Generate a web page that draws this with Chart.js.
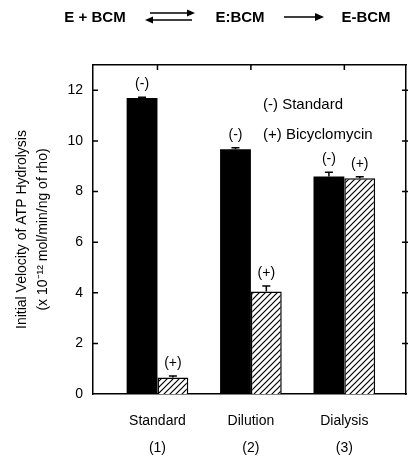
<!DOCTYPE html>
<html>
<head>
<meta charset="utf-8">
<script src="https://cdn.jsdelivr.net/npm/chart.js@4.4.0/dist/chart.umd.min.js"></script>
<style>
  html, body { margin: 0; padding: 0; background: #fff; }
  canvas { display: block; }
</style>
</head>
<body>
<canvas id="bcmChart" width="409" height="462"></canvas>
<script>
// data
const categories = ['Standard', 'Dilution', 'Dialysis'];
const categoryNumbers = ['(1)', '(2)', '(3)'];
const categoryPositions = [1, 2, 3];
const standardValues = [11.7, 9.67, 8.59];      // (-) no bicyclomycin
const standardErrors = [0.03, 0.06, 0.17];
const bicyclomycinValues = [0.65, 4.05, 8.53];  // (+) bicyclomycin
const bicyclomycinErrors = [0.06, 0.22, 0.05];
const yTickValues = [0, 2, 4, 6, 8, 10, 12];
const seriesMarks = ['(-)', '(+)'];
const legendLines = ['(-) Standard', '(+) Bicyclomycin'];

const FONT = "'Liberation Sans', Arial, Helvetica, sans-serif";

function makeHatch() {
    const c = document.createElement('canvas');
    c.width = 6;
    c.height = 6;
    const g = c.getContext('2d');
    g.fillStyle = '#fff';
    g.fillRect(0, 0, 6, 6);
    g.strokeStyle = '#000';
    g.lineWidth = 1.2;
    g.beginPath();
    g.moveTo(0, 6); g.lineTo(6, 0);
    g.moveTo(-1, 1); g.lineTo(1, -1);
    g.moveTo(5, 7); g.lineTo(7, 5);
    g.stroke();
    return g.createPattern(c, 'repeat');
}

function toPoints(values) {
    return values.map((v, i) => ({ x: categoryPositions[i], y: v }));
}

const whiteBackground = {
    id: 'whiteBackground',
    beforeDraw(chart) {
        const ctx = chart.ctx;
        ctx.save();
        ctx.fillStyle = '#fff';
        ctx.fillRect(0, 0, chart.width, chart.height);
        ctx.restore();
    }
};

function arrowHead(ctx, x, y, dir, size) {
    ctx.beginPath();
    ctx.moveTo(x, y);
    ctx.lineTo(x - dir * size, y - size * 0.45);
    ctx.lineTo(x - dir * size, y + size * 0.45);
    ctx.closePath();
    ctx.fill();
}

const decorations = {
    id: 'decorations',
    afterDraw(chart) {
        const ctx = chart.ctx;
        const area = chart.chartArea;
        const x = chart.scales.x;
        const y = chart.scales.y;
        ctx.save();
        ctx.strokeStyle = '#000';
        ctx.fillStyle = '#000';

        // inward tick marks on left, right and top
        ctx.lineWidth = 1.5;
        ctx.beginPath();
        yTickValues.forEach(v => {
            const py = y.getPixelForValue(v);
            if (v === 0) return;
            ctx.moveTo(area.left, py); ctx.lineTo(area.left + 5, py);
            ctx.moveTo(area.right - 4, py); ctx.lineTo(area.right + 2, py);
        });
        categoryPositions.forEach(c => {
            const px = x.getPixelForValue(c);
            ctx.moveTo(px, area.top); ctx.lineTo(px, area.top + 5);
        });
        ctx.stroke();

        // error bars and (-)/(+) marks over each bar
        const sets = [[standardValues, standardErrors], [bicyclomycinValues, bicyclomycinErrors]];
        ctx.font = '14px ' + FONT;
        ctx.textAlign = 'center';
        ctx.textBaseline = 'middle';
        sets.forEach((s, d) => {
            const meta = chart.getDatasetMeta(d);
            meta.data.forEach((bar, i) => {
                const top = y.getPixelForValue(s[0][i]);
                const errTop = y.getPixelForValue(s[0][i] + s[1][i]);
                ctx.lineWidth = 1.5;
                ctx.beginPath();
                ctx.moveTo(bar.x, top);
                ctx.lineTo(bar.x, errTop);
                ctx.moveTo(bar.x - 4, errTop);
                ctx.lineTo(bar.x + 4, errTop);
                ctx.stroke();
                ctx.fillText(seriesMarks[d], bar.x, errTop - 13);
            });
        });

        // legend text
        ctx.font = '15px ' + FONT;
        ctx.textAlign = 'left';
        ctx.fillText(legendLines[0], 263, 105);
        ctx.fillText(legendLines[1], 263, 135);

        // reaction scheme above the plot
        ctx.font = 'bold 15px ' + FONT;
        ctx.textAlign = 'center';
        ctx.fillText('E + BCM', 95, 18);
        ctx.fillText('E:BCM', 240, 18);
        ctx.fillText('E-BCM', 366, 18);
        ctx.lineWidth = 1.3;
        ctx.beginPath();
        ctx.moveTo(150, 13); ctx.lineTo(190, 13);
        ctx.moveTo(150, 20); ctx.lineTo(192, 20);
        ctx.moveTo(284, 17); ctx.lineTo(316, 17);
        ctx.stroke();
        arrowHead(ctx, 195, 13, 1, 8);
        arrowHead(ctx, 145, 20, -1, 8);
        arrowHead(ctx, 324, 17, 1, 9);
        ctx.restore();
    }
};

const ctx = document.getElementById('bcmChart');
new Chart(ctx, {
    type: 'bar',
    data: {
        datasets: [{
            label: 'Standard',
            data: toPoints(standardValues),
            backgroundColor: '#000',
            borderColor: '#000',
            borderWidth: 0
        }, {
            label: 'Bicyclomycin',
            data: toPoints(bicyclomycinValues),
            backgroundColor: makeHatch(),
            borderColor: '#000',
            borderWidth: 1.5
        }]
    },
    options: {
        responsive: false,
        animation: false,
        categoryPercentage: 0.66,
        barPercentage: 1.0,
        layout: { padding: { top: 65, right: 3, left: 0, bottom: 0 } },
        plugins: {
            legend: { display: false },
            tooltip: { enabled: false },
            title: { display: false }
        },
        scales: {
            x: {
                type: 'linear',
                position: 'bottom',
                offset: false,
                min: 0.31,
                max: 3.66,
                afterBuildTicks: s => { s.ticks = categoryPositions.map(v => ({ value: v })); },
                afterFit: s => { s.height = 68; },
                grid: { display: false, drawTicks: false, offset: false },
                border: { display: true, color: '#000', width: 1.5 },
                ticks: {
                    color: '#000',
                    padding: 14,
                    maxRotation: 0,
                    font: { family: FONT, size: 14, lineHeight: 1.9 },
                    callback: (v) => {
                        const i = categoryPositions.indexOf(v);
                        return i < 0 ? '' : [categories[i], categoryNumbers[i]];
                    }
                }
            },
            x2: {
                type: 'linear',
                position: 'top',
                offset: false,
                min: 0.31,
                max: 3.66,
                afterFit: s => { s.height = 0; },
                grid: { display: false, drawTicks: false },
                border: { display: true, color: '#000', width: 1.5 },
                ticks: { display: false }
            },
            y: {
                min: 0,
                max: 13,
                afterBuildTicks: s => { s.ticks = yTickValues.map(v => ({ value: v })); },
                afterFit: s => { s.width = 93; },
                grid: { display: false, drawTicks: false },
                border: { display: true, color: '#000', width: 1.5 },
                ticks: {
                    color: '#000',
                    padding: 10,
                    font: { family: FONT, size: 14 }
                },
                title: {
                    display: true,
                    text: ['Initial Velocity of ATP Hydrolysis', '(x 10\u207B\u00B9\u00B2 mol/min/ng of rho)'],
                    color: '#000',
                    padding: { top: 11, bottom: 0 },
                    font: { family: FONT, size: 14, lineHeight: 1.55 }
                }
            },
            y2: {
                position: 'right',
                min: 0,
                max: 13,
                afterFit: s => { s.width = 0; },
                grid: { display: false, drawTicks: false },
                border: { display: true, color: '#000', width: 1.5 },
                ticks: { display: false }
            }
        }
    },
    plugins: [whiteBackground, decorations]
});
</script>
</body>
</html>
